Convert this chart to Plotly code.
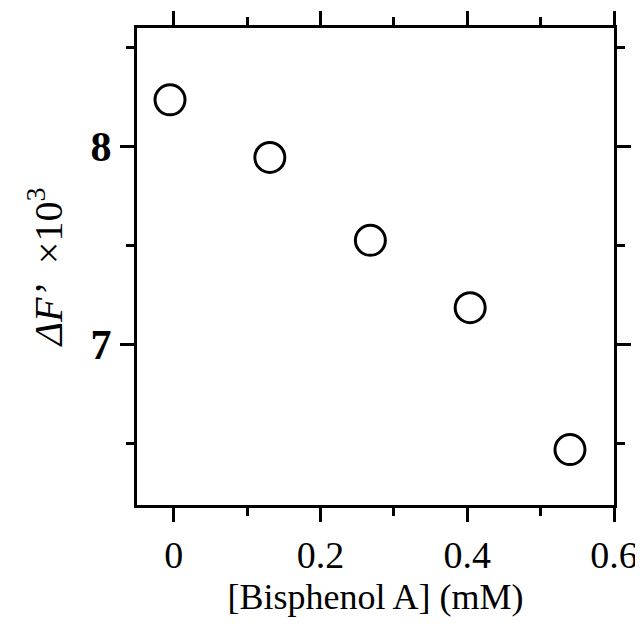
import plotly.graph_objects as go

bisphenol_mM = [-0.005, 0.131, 0.268, 0.404, 0.540]
delta_f = [8.237, 7.946, 7.527, 7.187, 6.47]

x_tickvals = [0, 0.2, 0.4, 0.6]
x_ticktext = ["0", "0.2", "0.4", "0.6"]
y_tickvals = [7, 8]
y_ticktext = ["7", "8"]

fig = go.Figure()
fig.add_trace(go.Scatter(
    x=bisphenol_mM, y=delta_f, mode="markers",
    marker=dict(symbol="circle-open", size=30, color="black",
                line=dict(width=3, color="black")),
    showlegend=False,
))

axis_common = dict(
    showline=True, linecolor="black", linewidth=3, mirror="allticks",
    ticks="outside", ticklen=14, tickwidth=3, tickcolor="black",
    showgrid=False, zeroline=False, automargin=False,
)

fig.update_xaxes(
    **axis_common,
    range=[-0.05, 0.6],
    tickvals=x_tickvals, ticktext=x_ticktext,
    tickfont=dict(family="Liberation Serif", size=38, color="black"),
    minor=dict(ticks="outside", ticklen=8, tickwidth=3, tickcolor="black",
               tickvals=[0.1, 0.3, 0.5]),
    title=dict(text="[Bisphenol A] (mM)",
               font=dict(family="Liberation Serif", size=36, color="black"),
               standoff=10),
)
fig.update_yaxes(
    **axis_common,
    range=[6.19, 8.60],
    tickvals=y_tickvals, ticktext=y_ticktext,
    tickfont=dict(family="Liberation Serif", size=42, color="black", weight="bold"),
    minor=dict(ticks="outside", ticklen=8, tickwidth=3, tickcolor="black",
               tickvals=[6.5, 7.5, 8.5]),
    title=dict(text="<i>ΔF’</i>  ×10<sup>3</sup>",
               font=dict(family="Liberation Serif", size=40, color="black"),
               standoff=16),
)

# page body has an 8px default margin, so the figure is drawn 8px in
fig.update_layout(
    width=635, height=619,
    margin=dict(l=129, r=29, t=20, b=122),
    plot_bgcolor="white", paper_bgcolor="white",
)

fig.write_html("out.html")
